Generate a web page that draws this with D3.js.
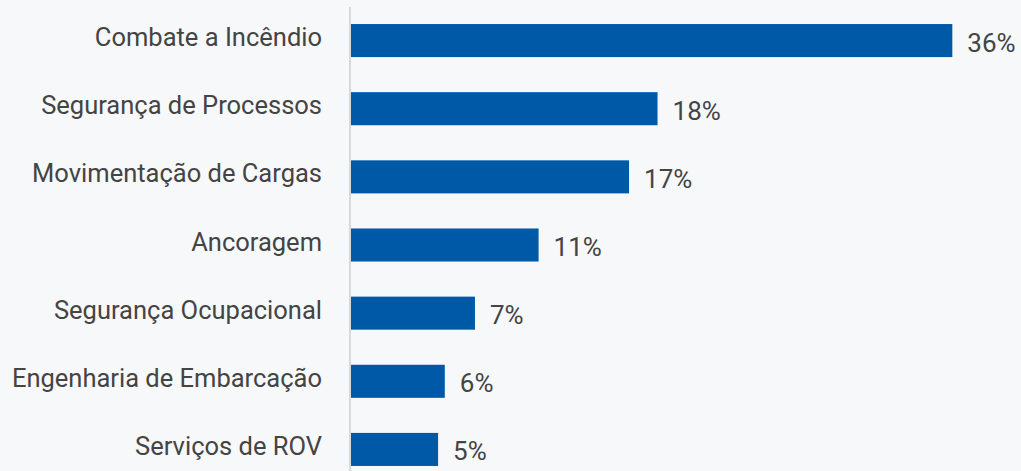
<!DOCTYPE html>
<html>
<head>
<meta charset="utf-8">
<script src="https://cdn.jsdelivr.net/npm/d3@7"></script>
<style>
  body { margin: 0; background: #f7f8fa; }
  svg { display: block; background: #f7f8fa; }
  .cat { font-family: Roboto, sans-serif; font-size: 25.5px; fill: #444; }
  .val { font-family: Roboto, sans-serif; font-size: 26px; fill: #444; }
</style>
</head>
<body>
<svg width="1021" height="471"></svg>
<script>
// Data
var categorias = ["Combate a Incêndio", "Segurança de Processos", "Movimentação de Cargas",
    "Ancoragem", "Segurança Ocupacional", "Engenharia de Embarcação", "Serviços de ROV"];
var percentuais = [35.9, 18.3, 16.6, 11.2, 7.4, 5.6, 5.2];

var svg = d3.select("svg"),
    width = +svg.attr("width"),
    height = +svg.attr("height");

var dados = categorias.map(function(c, i) { return {cat: c, val: percentuais[i]}; });

// Scales
var x = d3.scaleLinear()
    .domain([0, 36])
    .range([351, 954]);

var y = d3.scaleBand()
    .domain(categorias)
    .range([7, 483])
    .paddingInner(0.515)
    .paddingOuter(0.25);

// Bars
svg.append("g")
  .selectAll("rect")
  .data(dados)
  .enter().append("rect")
    .attr("x", x(0))
    .attr("y", function(d) { return y(d.cat); })
    .attr("width", function(d) { return x(d.val) - x(0); })
    .attr("height", y.bandwidth())
    .attr("fill", "#0059a6");

// Vertical axis line
svg.append("line")
    .attr("x1", 350).attr("x2", 350)
    .attr("y1", 7).attr("y2", height)
    .attr("stroke", "#d9d9d9")
    .attr("stroke-width", 2);

// Category labels
svg.append("g")
  .selectAll("text")
  .data(dados)
  .enter().append("text")
    .attr("class", "cat")
    .attr("x", 322)
    .attr("y", function(d) { return y(d.cat) + y.bandwidth() / 2 + 5.5; })
    .attr("text-anchor", "end")
    .text(function(d) { return d.cat; });

// Value labels
svg.append("g")
  .selectAll("text")
  .data(dados)
  .enter().append("text")
    .attr("class", "val")
    .attr("x", function(d) { return x(d.val) + 15; })
    .attr("y", function(d) { return y(d.cat) + y.bandwidth() / 2 + 11; })
    .text(function(d) { return Math.round(d.val) + "%"; });
</script>
</body>
</html>
